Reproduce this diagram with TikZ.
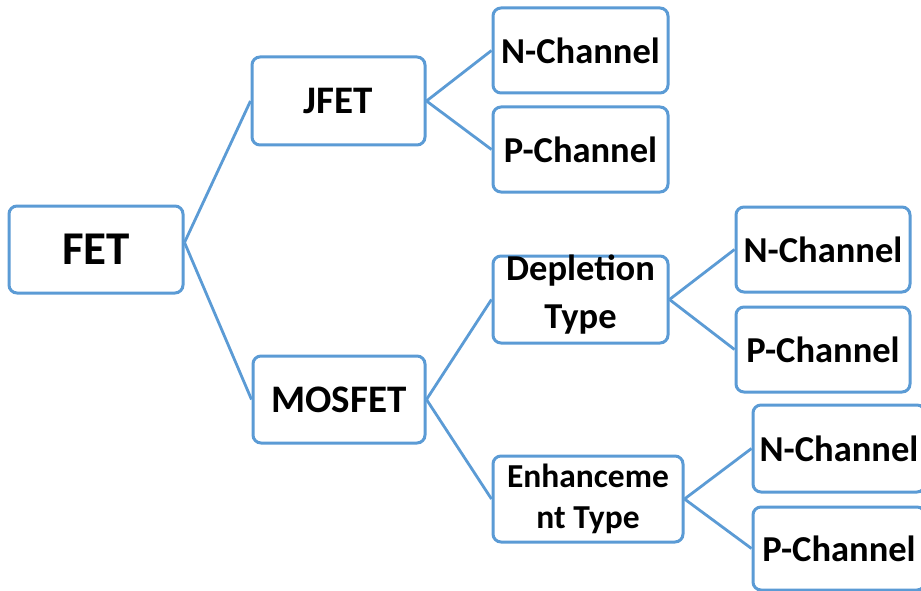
\documentclass[tikz,border=0pt]{standalone}
\usepackage{fontspec}
\setmainfont{Carlito}
\definecolor{edgeblue}{HTML}{5B9BD5}
\begin{document}
\begin{tikzpicture}[x=1pt,y=-1pt,
  box/.style={draw=edgeblue, line width=3pt, rounded corners=8pt, fill=white,
    inner sep=0pt, align=center, font=\bfseries\fontsize{36.5}{48}\selectfont},
  txt/.style={inner sep=0pt, align=center, font=\bfseries\fontsize{36.5}{48}\selectfont},
  mid/.style={font=\bfseries\fontsize{39}{44}\selectfont},
  big/.style={font=\bfseries\fontsize{47}{50}\selectfont},
  small/.style={font=\bfseries\fontsize{33.5}{41}\selectfont},
  link/.style={draw=edgeblue, line width=2.8pt}]
\useasboundingbox (0,0) rectangle (921,591);
\clip (0,0) rectangle (921,591);
\fill[white] (0,0) rectangle (921,591);
% level 0
\node[box, big, minimum width=174pt, minimum height=87pt] (fet) at (96,249.5) {FET};
% level 1
\node[box, mid, minimum width=173pt, minimum height=88pt] (jfet) at (338.5,101) {JFET};
\node[box, mid, minimum width=172pt, minimum height=87pt] (mosfet) at (339,399.5) {MOSFET};
% level 2
\node[box, minimum width=175pt, minimum height=85pt] (jn) at (580.5,50.5) {N-Channel};
\node[box, minimum width=175pt, minimum height=85pt] (jp) at (580.5,149.5) {P-Channel};
\node[box, minimum width=175pt, minimum height=87pt] (dep) at (580.5,299.5) {};
\node[txt] (deptext) at (580.5,295) {Depletion\\Type};
\node[box, small, minimum width=190pt, minimum height=86pt] (enh) at (588,499) {Enhanceme\\nt Type};
% level 3
\node[box, minimum width=174pt, minimum height=85pt] (dn) at (823,249.5) {N-Channel};
\node[box, minimum width=174pt, minimum height=85pt] (dp) at (823,349.5) {P-Channel};
\node[box, minimum width=172pt, minimum height=87pt] (en) at (839,448.5) {N-Channel};
\node[box, minimum width=172pt, minimum height=83pt] (ep) at (839,548.5) {P-Channel};
% connectors
\coordinate (fetout) at ([yshift=7pt]fet.east);
\draw[link] (fetout) -- (jfet.west);
\draw[link] (fetout) -- (mosfet.west);
\draw[link] (jfet.east) -- (jn.west);
\draw[link] (jfet.east) -- (jp.west);
\draw[link] (mosfet.east) -- (dep.west);
\draw[link] (mosfet.east) -- (enh.west);
\draw[link] (dep.east) -- (dn.west);
\draw[link] (dep.east) -- (dp.west);
\draw[link] (enh.east) -- (en.west);
\draw[link] (enh.east) -- (ep.west);
\end{tikzpicture}
\end{document}
